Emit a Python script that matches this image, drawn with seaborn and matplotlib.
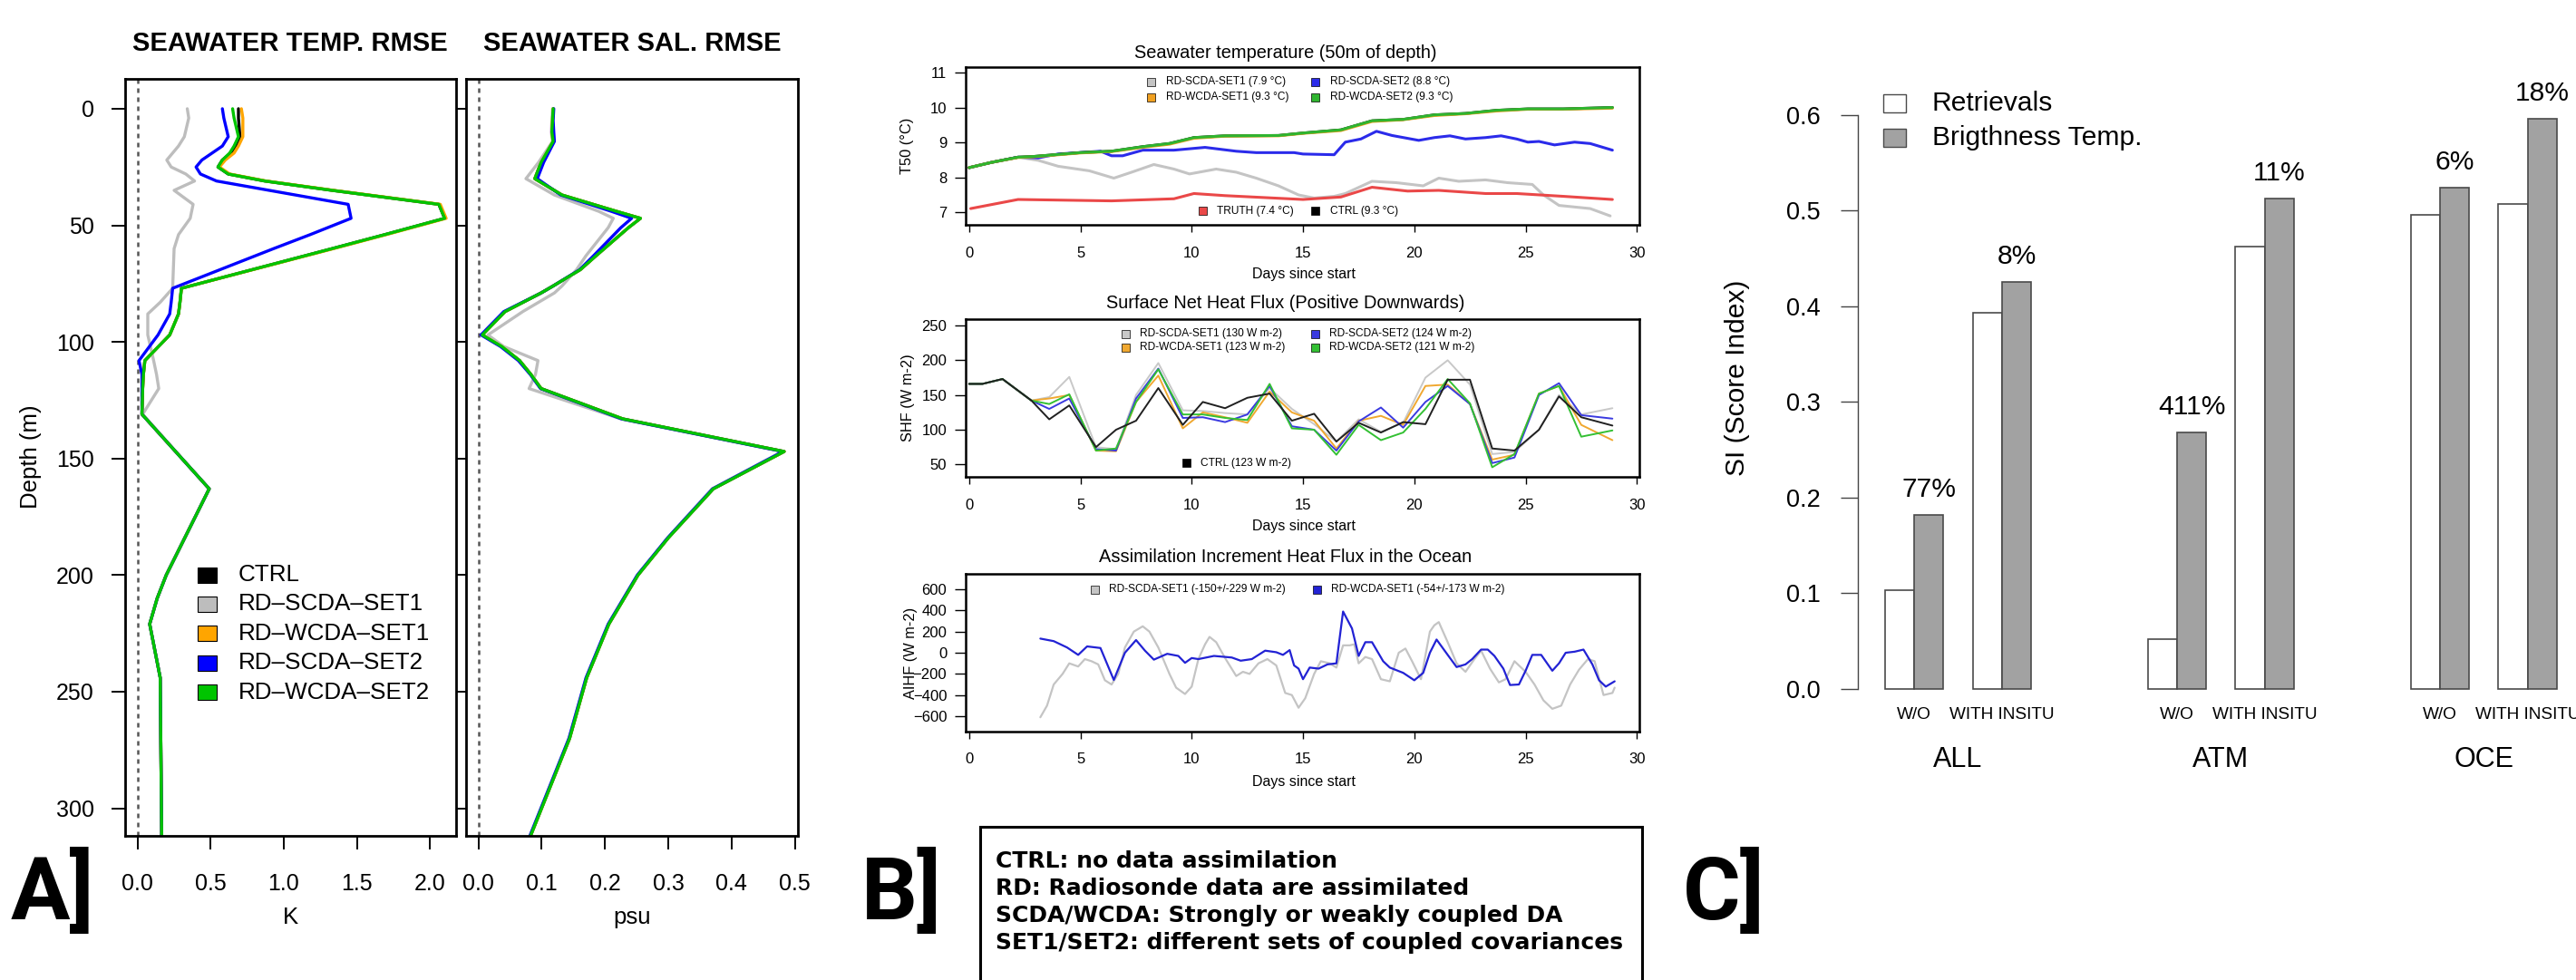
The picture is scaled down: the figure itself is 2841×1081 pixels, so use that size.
import numpy as np
import pandas as pd
import seaborn as sns
import matplotlib.pyplot as plt
from matplotlib.patches import Rectangle

# ---------------- A] RMSE profiles ----------------
profile_names = ["CTRL", "RD-SCDA-SET1", "RD-WCDA-SET1", "RD-SCDA-SET2", "RD-WCDA-SET2"]
profile_colors = ["black", "#bdbdbd", "#ffa500", "#0000ff", "#00c400"]
legend_a = ["CTRL", "RD–SCDA–SET1", "RD–WCDA–SET1", "RD–SCDA–SET2", "RD–WCDA–SET2"]

temp_depth = [0, 4, 12, 16, 19, 22, 25, 28, 31, 35, 41, 47, 54, 60, 77, 83, 88, 97,
              108, 114, 120, 131, 147, 163, 200, 210, 221, 244, 312]
temp_ctrl = [0.69, 0.69, 0.70, 0.67, 0.64, 0.58, 0.55, 0.62, 0.87, 1.33, 2.06, 2.10, 1.69, 1.33,
             0.30, 0.29, 0.28, 0.22, 0.05, 0.04, 0.035, 0.03, 0.26, 0.49, 0.196, 0.134, 0.083, 0.155, 0.165]
temp_scda1 = [0.34, 0.35, 0.32, 0.28, 0.24, 0.20, 0.23, 0.33, 0.39, 0.25, 0.38, 0.36, 0.28, 0.25,
              0.24, 0.155, 0.07, 0.07, 0.11, 0.13, 0.145, 0.035, 0.26, 0.49, 0.196, 0.134, 0.083, 0.155, 0.165]
temp_wcda1 = [0.71, 0.72, 0.72, 0.69, 0.66, 0.60, 0.56, 0.63, 0.88, 1.34, 2.07, 2.11, 1.70, 1.34,
              0.30, 0.29, 0.28, 0.22, 0.05, 0.04, 0.035, 0.03, 0.26, 0.49, 0.196, 0.134, 0.083, 0.155, 0.165]
temp_scda2 = [0.58, 0.59, 0.62, 0.58, 0.51, 0.44, 0.40, 0.43, 0.54, 0.90, 1.44, 1.46, 1.18, 0.93,
              0.24, 0.23, 0.22, 0.14, 0.01, 0.03, 0.03, 0.03, 0.26, 0.49, 0.196, 0.134, 0.083, 0.155, 0.165]
temp_wcda2 = [0.65, 0.66, 0.69, 0.66, 0.63, 0.58, 0.55, 0.62, 0.87, 1.33, 2.06, 2.10, 1.69, 1.33,
              0.30, 0.29, 0.28, 0.22, 0.05, 0.04, 0.035, 0.03, 0.26, 0.49, 0.196, 0.134, 0.083, 0.155, 0.165]

sal_depth = [0, 5, 10, 14, 23, 30, 37, 44, 47, 51, 63, 69, 76, 79, 87, 97, 102, 108,
             114, 120, 133, 147, 163, 184, 200, 221, 244, 270, 312]
sal_ctrl = [0.118, 0.117, 0.116, 0.118, 0.099, 0.089, 0.132, 0.218, 0.256, 0.237, 0.186, 0.161, 0.118, 0.099,
            0.042, 0.006, 0.037, 0.065, 0.083, 0.099, 0.228, 0.483, 0.371, 0.300, 0.252, 0.206, 0.171, 0.144, 0.082]
sal_scda1 = [0.117, 0.116, 0.115, 0.117, 0.095, 0.075, 0.120, 0.190, 0.213, 0.205, 0.170, 0.155, 0.132, 0.120,
             0.070, 0.015, 0.040, 0.094, 0.090, 0.080, 0.225, 0.480, 0.369, 0.299, 0.251, 0.205, 0.170, 0.143, 0.081]
sal_wcda1 = [0.118, 0.117, 0.116, 0.118, 0.099, 0.089, 0.132, 0.218, 0.256, 0.237, 0.186, 0.161, 0.118, 0.099,
             0.042, 0.006, 0.037, 0.065, 0.083, 0.099, 0.228, 0.483, 0.371, 0.300, 0.252, 0.206, 0.171, 0.144, 0.082]
sal_scda2 = [0.119, 0.118, 0.119, 0.120, 0.103, 0.093, 0.130, 0.210, 0.242, 0.225, 0.182, 0.160, 0.118, 0.099,
             0.040, 0.004, 0.035, 0.063, 0.082, 0.098, 0.226, 0.481, 0.370, 0.299, 0.251, 0.205, 0.170, 0.143, 0.081]
sal_wcda2 = [0.118, 0.117, 0.116, 0.118, 0.099, 0.089, 0.132, 0.218, 0.256, 0.237, 0.186, 0.161, 0.118, 0.099,
             0.042, 0.006, 0.037, 0.065, 0.083, 0.099, 0.228, 0.483, 0.371, 0.300, 0.252, 0.206, 0.171, 0.144, 0.082]

# ---------------- B] time series ----------------
t50_names = ["RD-SCDA-SET1", "RD-SCDA-SET2", "CTRL", "RD-WCDA-SET1", "RD-WCDA-SET2", "TRUTH"]
t50_colors = ["#c4c4c4", "#2b2bea", "black", "#f0a020", "#2fb52f", "#ea4848"]
t50_days_main = [0.0, 1.0, 2.2, 2.9, 5.0, 6.4, 7.8, 9.0, 10.1, 11.5, 13.9, 15.0, 16.7, 18.1,
                 19.5, 20.9, 22.3, 23.7, 25.1, 26.7, 28.9]
t50_ctrl = [8.28, 8.43, 8.58, 8.60, 8.71, 8.75, 8.88, 8.97, 9.14, 9.19, 9.20, 9.27, 9.36, 9.62,
            9.66, 9.79, 9.83, 9.92, 9.96, 9.96, 10.0]
t50_wcda1 = [8.28, 8.43, 8.57, 8.59, 8.70, 8.74, 8.86, 8.95, 9.12, 9.18, 9.19, 9.26, 9.34, 9.60,
             9.65, 9.77, 9.82, 9.90, 9.95, 9.95, 9.98]
t50_wcda2 = [8.28, 8.43, 8.58, 8.60, 8.71, 8.75, 8.88, 8.97, 9.14, 9.19, 9.20, 9.27, 9.36, 9.62,
             9.66, 9.79, 9.83, 9.92, 9.96, 9.96, 10.0]
t50_days_scda2 = [0.0, 1.0, 2.2, 3.1, 4.0, 5.9, 6.4, 6.9, 7.8, 9.2, 10.6, 12.0, 12.9, 14.6, 15.0, 16.4,
                  16.9, 17.6, 18.3, 19.0, 20.2, 20.9, 21.6, 22.3, 23.2, 23.9, 24.6, 25.1, 25.6, 26.3,
                  27.2, 27.9, 28.9]
t50_scda2 = [8.28, 8.43, 8.58, 8.56, 8.67, 8.75, 8.62, 8.62, 8.78, 8.78, 8.86, 8.75, 8.71, 8.71, 8.67, 8.65,
             9.01, 9.10, 9.32, 9.20, 9.06, 9.14, 9.19, 9.10, 9.14, 9.19, 9.10, 9.01, 9.03, 8.93,
             9.01, 8.97, 8.78]
t50_days_scda1 = [0.0, 1.0, 2.2, 3.1, 4.0, 5.4, 6.5, 7.3, 8.3, 9.2, 9.9, 11.1, 12.0, 12.9, 13.9, 14.8,
                  15.5, 16.4, 16.9, 18.1, 19.2, 20.4, 21.1, 22.0, 23.2, 24.2, 25.3, 25.8, 26.5, 27.9, 28.8]
t50_scda1 = [8.28, 8.43, 8.58, 8.49, 8.32, 8.19, 7.98, 8.15, 8.37, 8.24, 8.10, 8.24, 8.15, 7.98, 7.76, 7.50,
             7.41, 7.46, 7.54, 7.89, 7.85, 7.76, 7.98, 7.89, 7.93, 7.85, 7.80, 7.50, 7.20, 7.11, 6.90]
t50_days_truth = [0.07, 2.2, 6.4, 9.2, 10.1, 11.5, 15.0, 16.7, 18.1, 19.7, 21.1, 23.2, 24.6, 26.7, 28.9]
t50_truth = [7.11, 7.37, 7.33, 7.39, 7.54, 7.48, 7.37, 7.44, 7.72, 7.61, 7.63, 7.54, 7.54, 7.46, 7.37]

shf_names = ["RD-SCDA-SET1", "RD-WCDA-SET1", "RD-SCDA-SET2", "RD-WCDA-SET2", "CTRL"]
shf_colors = ["#c8c8c8", "#f0a830", "#3a3ae0", "#33c033", "#202020"]
shf_days = [0.0, 0.6, 1.5, 2.8, 3.6, 4.5, 5.7, 6.6, 7.5, 8.5, 9.6, 10.5, 11.5, 12.5, 13.5,
            14.5, 15.5, 16.5, 17.5, 18.5, 19.5, 20.5, 21.5, 22.5, 23.5, 24.5, 25.6, 26.5, 27.5, 28.9]
shf_ctrl = [166, 166, 173, 142, 115, 135, 75, 100, 113, 160, 107, 140, 131, 146, 152,
            113, 123, 83, 110, 96, 111, 108, 172, 172, 73, 70, 100, 148, 118, 106]
shf_scda1 = [166, 166, 173, 142, 147, 176, 75, 72, 150, 196, 128, 127, 124, 122, 160,
             130, 108, 83, 115, 97, 110, 175, 200, 165, 65, 68, 100, 150, 122, 131]
shf_wcda1 = [166, 166, 173, 142, 145, 150, 70, 69, 140, 178, 102, 125, 118, 110, 155,
             125, 113, 73, 113, 120, 107, 163, 165, 137, 57, 64, 152, 163, 107, 85]
shf_scda2 = [166, 166, 173, 142, 130, 145, 72, 70, 145, 188, 117, 118, 111, 122, 163,
             105, 100, 70, 112, 132, 103, 140, 163, 137, 52, 60, 150, 167, 121, 116]
shf_wcda2 = [166, 166, 173, 142, 137, 151, 70, 73, 140, 187, 122, 122, 117, 114, 166,
             102, 100, 64, 107, 85, 96, 130, 173, 138, 46, 65, 152, 163, 90, 99]

aihf_names = ["RD-SCDA-SET1", "RD-WCDA-SET1"]
aihf_colors = ["#c4c4c4", "#2222d4"]
aihf_days_scda1 = [3.2, 3.5, 3.8, 4.2, 4.5, 4.9, 5.2, 5.5, 5.8, 6.1, 6.4, 6.7, 7.0, 7.4, 7.8, 8.1, 8.5, 9.0,
                   9.3, 9.7, 10.0, 10.3, 10.6, 10.8, 11.1, 11.5, 12.0, 12.3, 12.6, 13.0, 13.4, 13.8, 14.2,
                   14.5, 14.8, 15.1, 15.5, 15.8, 16.2, 16.5, 16.8, 17.1, 17.3, 17.5, 17.8, 18.1, 18.5,
                   18.9, 19.3, 19.6, 19.9, 20.3, 20.7, 20.9, 21.1, 21.5, 21.9, 22.3, 22.7, 23.0, 23.4,
                   23.8, 24.1, 24.5, 25.0, 25.4, 25.8, 26.2, 26.6, 27.0, 27.4, 27.8, 28.1, 28.5, 28.9, 29.0]
aihf_scda1 = [-610, -500, -300, -200, -100, -130, -60, -80, -110, -260, -300, -200, 50, 200, 250, 200,
              50, -200, -330, -390, -320, -60, 80, 150, 100, -50, -220, -180, -200, -100, -60, -120,
              -380, -400, -520, -430, -200, -80, -100, -140, 70, 70, 80, -100, -40, -60, -250, -270,
              0, 40, -80, -250, 200, 260, 290, 100, -100, -180, -60, 20, -150, -280, -250, -80, -180,
              -300, -450, -530, -500, -300, -160, -60, -80, -400, -380, -330]
aihf_days_wcda1 = [3.2, 3.8, 4.4, 4.9, 5.3, 5.9, 6.5, 7.0, 7.5, 7.9, 8.3, 8.9, 9.4, 9.7, 10.0, 10.3, 11.0,
                   11.8, 12.2, 12.7, 13.3, 13.8, 14.1, 14.4, 14.6, 14.8, 15.0, 15.3, 15.7, 16.1, 16.5,
                   16.8, 17.2, 17.5, 17.8, 18.1, 18.6, 18.9, 19.5, 20.0, 20.4, 20.7, 21.0, 21.5, 21.9,
                   22.3, 22.6, 23.0, 23.3, 23.6, 24.0, 24.3, 24.7, 25.0, 25.3, 25.7, 26.2, 26.5, 26.8,
                   27.2, 27.6, 28.0, 28.3, 28.6, 29.0]
aihf_wcda1 = [134, 110, 50, -20, 60, 45, -257, 0, 120, 20, -65, -10, -30, -95, -50, -60, -30, -45, -75,
              -60, 20, 5, -20, 25, -120, -150, -250, -140, -150, -110, -100, 390, 230, -30, 100, 100,
              -80, -140, -190, -260, -190, 0, 125, -20, -135, -110, -60, 30, 30, -30, -150, -305, -300,
              -170, -20, -20, -170, -100, 0, 10, 30, -110, -260, -320, -270]

notes = ["CTRL: no data assimilation",
         "RD: Radiosonde data are assimilated",
         "SCDA/WCDA: Strongly or weakly coupled DA",
         "SET1/SET2: different sets of coupled covariances"]

# ---------------- C] score index ----------------
groups = ["ALL", "ATM", "OCE"]
subsets = ["W/O", "WITH INSITU"]
kinds = ["Retrievals", "Brigthness Temp."]
si_retrievals = [0.103, 0.393, 0.052, 0.462, 0.496, 0.507]
si_brightness = [0.182, 0.425, 0.268, 0.513, 0.524, 0.596]
gain_labels = ["77%", "8%", "411%", "11%", "6%", "18%"]


def long_df(names, xs, ys, xname, yname):
    parts = [pd.DataFrame({"series": n, xname: x, yname: y}) for n, x, y in zip(names, xs, ys)]
    return pd.concat(parts, ignore_index=True)


sns.set_theme(style="ticks")
plt.rcParams["font.family"] = ["Liberation Sans", "DejaVu Sans"]
plt.rcParams["axes.edgecolor"] = "black"
plt.rcParams["xtick.color"] = "black"
plt.rcParams["ytick.color"] = "black"
plt.rcParams["text.color"] = "black"

W, H = 2841, 1081
fig = plt.figure(figsize=(W / 100, H / 100), dpi=100)


def add_ax(l, t, r, b):
    return fig.add_axes([l / W, 1 - b / H, (r - l) / W, (b - t) / H])


def ftext(x, y, s, **kw):
    fig.text(x / W, 1 - y / H, s, **kw)


def key(x, y, color, label, w, h, gap, fs, ec="black", lw=0.8):
    fig.add_artist(Rectangle((( x - w / 2) / W, 1 - (y + h / 2) / H), w / W, h / H,
                             transform=fig.transFigure, facecolor=color, edgecolor=ec, lw=lw))
    ftext(x + w / 2 + gap, y, label, fontsize=fs, ha="left", va="center")


# ---------- panel A ----------
ax_t = add_ax(137.7, 87, 503, 921.7)
ax_s = add_ax(514, 87, 880, 921.7)

temp_df = long_df(profile_names, [temp_ctrl, temp_scda1, temp_wcda1, temp_scda2, temp_wcda2],
                  [temp_depth] * 5, "rmse", "depth")
sal_df = long_df(profile_names, [sal_ctrl, sal_scda1, sal_wcda1, sal_scda2, sal_wcda2],
                 [sal_depth] * 5, "rmse", "depth")

for ax, df in [(ax_t, temp_df), (ax_s, sal_df)]:
    ax.axvline(0, color="#555555", lw=1.8, ls=(0, (2, 2)))
    sns.lineplot(data=df, x="rmse", y="depth", hue="series", hue_order=profile_names,
                 palette=profile_colors, sort=False, estimator=None, legend=False,
                 linewidth=2.4, ax=ax)
    ax.set_xlabel("")
    ax.set_ylabel("")
    ax.set_ylim(311.7, -12.8)
    ax.set_yticks(range(0, 301, 50))
    for sp in ax.spines.values():
        sp.set_linewidth(2.0)
    ax.tick_params(axis="x", length=11, width=1.4, labelsize=18, pad=18.5)
    ax.tick_params(axis="y", length=11, width=1.4, labelsize=18, pad=13.5)

ax_t.set_xlim(-0.0868, 2.178)
ax_t.set_xticks([0, 0.5, 1, 1.5, 2])
ax_t.set_xticklabels(["0.0", "0.5", "1.0", "1.5", "2.0"])
ax_s.set_xlim(-0.0196, 0.5047)
ax_s.set_xticks([0, 0.1, 0.2, 0.3, 0.4, 0.5])
ax_s.set_xticklabels(["0.0", "0.1", "0.2", "0.3", "0.4", "0.5"])
ax_s.tick_params(axis="y", labelleft=False, length=8)

ftext(320, 48, "SEAWATER TEMP. RMSE", fontsize=21, fontweight="bold", ha="center", va="center")
ftext(697, 48, "SEAWATER SAL. RMSE", fontsize=21, fontweight="bold", ha="center", va="center")
ftext(34, 504, "Depth (m)", fontsize=18.5, rotation=90, ha="center", va="center")
ftext(320, 1012, "K", fontsize=18.5, ha="center", va="center")
ftext(697, 1012, "psu", fontsize=18.5, ha="center", va="center")
for i, (lab, col) in enumerate(zip(legend_a, profile_colors)):
    key(228.5, 634 + 32.4 * i, col, lab, 21, 17, 24, 18.7)

# ---------- panel B ----------
ax_b1 = add_ax(1064.8, 74, 1808, 248)
ax_b2 = add_ax(1064.8, 351.7, 1808, 526)
ax_b3 = add_ax(1064.8, 632.7, 1808, 806.7)

t50_df = long_df(t50_names,
                 [t50_days_scda1, t50_days_scda2, t50_days_main, t50_days_main, t50_days_main, t50_days_truth],
                 [t50_scda1, t50_scda2, t50_ctrl, t50_wcda1, t50_wcda2, t50_truth], "day", "value")
shf_df = long_df(shf_names, [shf_days] * 5,
                 [shf_scda1, shf_wcda1, shf_scda2, shf_wcda2, shf_ctrl], "day", "value")
aihf_df = long_df(aihf_names, [aihf_days_scda1, aihf_days_wcda1],
                  [aihf_scda1, aihf_wcda1], "day", "value")

panels_b = [
    (ax_b1, t50_df, t50_names, t50_colors, 2.2, (6.645, 11.156), [7, 8, 9, 10, 11]),
    (ax_b2, shf_df, shf_names, shf_colors, 1.4, (32.2, 259.6), [50, 100, 150, 200, 250]),
    (ax_b3, aihf_df, aihf_names, aihf_colors, 1.6, (-742.9, 748.6), [-600, -400, -200, 0, 200, 400, 600]),
]
for ax, df, names, cols, lw, ylim, yt in panels_b:
    sns.lineplot(data=df, x="day", y="value", hue="series", hue_order=names, palette=cols,
                 sort=False, estimator=None, legend=False, linewidth=lw, ax=ax)
    ax.set_xlabel("")
    ax.set_ylabel("")
    ax.set_xlim(-0.163, 30.11)
    ax.set_ylim(*ylim)
    ax.set_xticks(range(0, 31, 5))
    ax.set_yticks(yt)
    for sp in ax.spines.values():
        sp.set_linewidth(1.8)
    ax.tick_params(axis="x", length=6, width=1.0, labelsize=12, pad=11)
    ax.tick_params(axis="y", length=9, width=1.0, labelsize=12, pad=5.8)

b_titles = ["Seawater temperature (50m of depth)", "Surface Net Heat Flux (Positive Downwards)",
            "Assimilation Increment Heat Flux in the Ocean"]
b_ylabels = ["T50 (°C)", "SHF (W m-2)", "AIHF (W m-2)"]
for title, ty, dy, ylab, yx, yy in zip(b_titles, [58, 335, 615], [303, 580, 862], b_ylabels,
                                       [1000.5, 1001.7, 1004.5], [161, 439, 720]):
    ftext(1418, ty, title, fontsize=14.4, ha="center", va="center")
    ftext(1438, dy, "Days since start", fontsize=11.5, ha="center", va="center")
    ftext(yx, yy, ylab, fontsize=11.8, rotation=90, ha="center", va="center")

fs_b = 8.6
key(1269.5, 90, t50_colors[0], "RD-SCDA-SET1 (7.9 °C)", 9, 9, 11.5, fs_b, lw=0.5)
key(1450.6, 90, t50_colors[1], "RD-SCDA-SET2 (8.8 °C)", 9, 9, 11.5, fs_b, lw=0.5)
key(1269.5, 107, t50_colors[3], "RD-WCDA-SET1 (9.3 °C)", 9, 9, 11.5, fs_b, lw=0.5)
key(1450.6, 107, t50_colors[4], "RD-WCDA-SET2 (9.3 °C)", 9, 9, 11.5, fs_b, lw=0.5)
key(1326, 232.7, t50_colors[5], "TRUTH (7.4 °C)", 9, 9, 11.5, fs_b, lw=0.5)
key(1450.6, 232.7, "black", "CTRL (9.3 °C)", 9, 9, 11.5, fs_b, lw=0.5)

key(1241.6, 368, shf_colors[0], "RD-SCDA-SET1 (130 W m-2)", 9, 9, 11, fs_b, lw=0.5)
key(1450.6, 368, shf_colors[2], "RD-SCDA-SET2 (124 W m-2)", 9, 9, 11, fs_b, lw=0.5)
key(1241.6, 383, shf_colors[1], "RD-WCDA-SET1 (123 W m-2)", 9, 9, 11, fs_b, lw=0.5)
key(1450.6, 383, shf_colors[3], "RD-WCDA-SET2 (121 W m-2)", 9, 9, 11, fs_b, lw=0.5)
key(1308.8, 510.7, "black", "CTRL (123 W m-2)", 9, 9, 11, fs_b, lw=0.5)

key(1207, 650, aihf_colors[0], "RD-SCDA-SET1 (-150+/-229 W m-2)", 9, 9, 11.2, fs_b, lw=0.5)
key(1452, 650, aihf_colors[1], "RD-WCDA-SET1 (-54+/-173 W m-2)", 9, 9, 11.2, fs_b, lw=0.5)

fig.add_artist(Rectangle((1081 / W, 1 - 1095 / H), (1811 - 1081) / W, (1095 - 911.7) / H,
                         transform=fig.transFigure, facecolor="white", edgecolor="black", lw=2.2))
for i, line in enumerate(notes):
    ftext(1098, 950 + 30 * i, line, fontsize=18, fontweight="bold", family="DejaVu Sans",
          ha="left", va="center")

# ---------- panel C ----------
ax_c = add_ax(2049, 47, 2841, 787.4)
rows = []
for g, grp in enumerate(groups):
    for s, sub in enumerate(subsets):
        i = g * 2 + s
        slot = g * 9 + s * 3
        rows.append({"pos": slot + 0.5, "si": si_retrievals[i], "kind": kinds[0]})
        rows.append({"pos": slot + 1.5, "si": si_brightness[i], "kind": kinds[1]})
score_df = pd.DataFrame(rows)

sns.barplot(data=score_df, x="pos", y="si", hue="kind", hue_order=kinds,
            palette=["white", "#a2a2a2"], native_scale=True, dodge=False, width=1.0,
            errorbar=None, edgecolor="#4a4a4a", linewidth=1.2, legend=False, orient="x", ax=ax_c)
ax_c.set_xlim(-0.932, 23.66)
ax_c.set_ylim(-0.026, 0.6756)
ax_c.set_xlabel("")
ax_c.set_ylabel("")
ax_c.set_xticks([])
ax_c.set_yticks([0, 0.1, 0.2, 0.3, 0.4, 0.5, 0.6])
ax_c.set_yticklabels(["0.0", "0.1", "0.2", "0.3", "0.4", "0.5", "0.6"])
for side in ["top", "right", "bottom"]:
    ax_c.spines[side].set_visible(False)
ax_c.spines["left"].set_bounds(0, 0.6)
ax_c.spines["left"].set_linewidth(1.0)
ax_c.spines["left"].set_color("#444444")
ax_c.tick_params(axis="y", length=13.7, width=1.0, color="#444444", labelsize=19.5, pad=15.8)
ax_c.patch.set_alpha(0)

tr = ax_c.get_xaxis_transform()
for g, grp in enumerate(groups):
    ax_c.text(g * 9 + 2.5, -0.068, grp, transform=tr, fontsize=22, ha="center", va="center")
    for s, sub in enumerate(subsets):
        i = g * 2 + s
        slot = g * 9 + s * 3
        ax_c.text(slot + 1.0, -0.001, sub, transform=tr, fontsize=13.7, ha="center", va="center")
        ax_c.text(slot + 1.5, si_brightness[i] + 0.0265, gain_labels[i], fontsize=21.6,
                  ha="center", va="center", clip_on=False)

ftext(1916, 417, "SI (Score Index)", fontsize=21.6, rotation=90, ha="center", va="center")
key(2089, 114, "white", kinds[0], 25, 20, 29.4, 21.6, ec="#4a4a4a", lw=1.0)
key(2089, 152, "#a2a2a2", kinds[1], 25, 20, 29.4, 21.6, ec="#4a4a4a", lw=1.0)

# ---------- panel tags ----------
for tag, x in [("A]", 12), ("B]", 950), ("C]", 1856)]:
    ftext(x, 986, tag, fontsize=70, fontweight="bold", family="Roboto", ha="left", va="center")

fig.savefig("out.png", dpi=100)
